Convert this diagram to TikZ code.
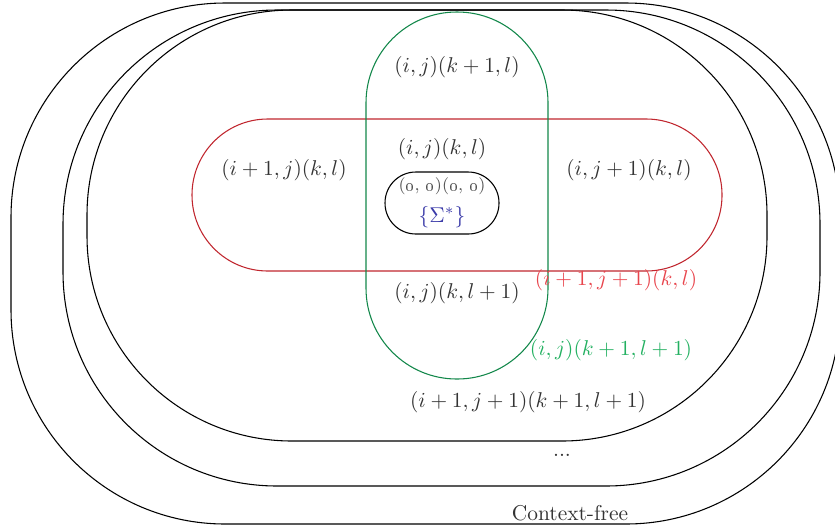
\documentclass[tikz,border=0pt]{standalone}
\usepackage{xcolor}
\definecolor{redline}{HTML}{C0262E}
\definecolor{greenline}{HTML}{12874A}
\definecolor{redlab}{HTML}{E8444C}
\definecolor{greenlab}{HTML}{22B060}
\definecolor{bluelab}{HTML}{3A3AA8}
\definecolor{graylab}{HTML}{333333}
\definecolor{lightgraylab}{HTML}{555555}
\newcommand{\oz}{\oldstylenums{0}}
\begin{document}
\begin{tikzpicture}[x=0.467pt,y=-0.467pt,
  lab/.style={text=graylab, inner sep=0pt},
  blackset/.style={draw=black, line width=0.5pt},
]
\useasboundingbox (0,0) rectangle (835,529);
\clip (0,0) rectangle (835,529);
% outer sets
\draw[blackset, rounded corners=100pt] (11,3) rectangle (840,524);
\draw[blackset, rounded corners=100pt] (63,10) rectangle (820,486);
\draw[blackset, rounded corners=95.7pt] (87,10) rectangle (767,441);
% red and green stadiums
\draw[draw=redline, line width=0.5pt, rounded corners=35.4pt] (192,119) rectangle (722,271);
\draw[draw=greenline, line width=0.5pt, rounded corners=42.4pt] (366,12) rectangle (548,379);
% small core
\draw[blackset, rounded corners=14.4pt] (385,172) rectangle (499,234);
% labels
\node[lab] (a) at (457,67) {$(i,j)(k+1,l)$};
\node[lab] (b) at (284,170) {$(i+1,j)(k,l)$};
\node[lab] (c) at (442,149) {$(i,j)(k,l)$};
\node[lab] (d) at (629,170) {$(i,j+1)(k,l)$};
\node[lab, text=lightgraylab, font=\footnotesize] (e) at (442,186.5) {(\oz, \oz)(\oz, \oz)};
\node[lab, text=bluelab] (f) at (442,217) {$\{\Sigma^*\}$};
\node[lab] (g) at (457,293) {$(i,j)(k,l+1)$};
\node[lab, text=redlab] (h) at (616,280) {$(i+1,j+1)(k,l)$};
\node[lab, text=greenlab] (m) at (611,350) {$(i,j)(k+1,l+1)$};
\node[lab] (n) at (528,402) {$(i+1,j+1)(k+1,l+1)$};
\node[lab] (o) at (562,455) {...};
\node[lab] (p) at (570,513) {Context-free};
\end{tikzpicture}
\end{document}
